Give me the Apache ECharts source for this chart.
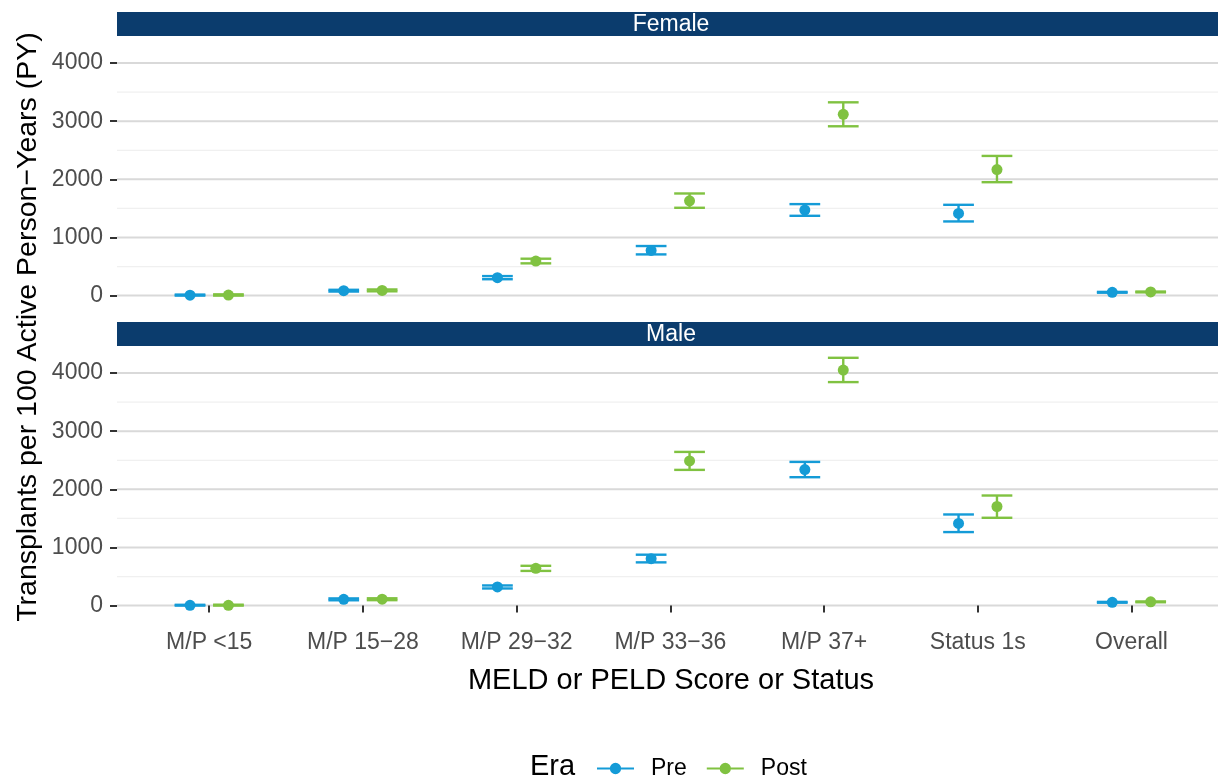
<!DOCTYPE html>
<html>
<head>
<meta charset="utf-8">
<title>Transplant rates by MELD/PELD score, sex and era</title>
<script src="https://cdn.jsdelivr.net/npm/echarts@6/dist/echarts.min.js"></script>
<style>
  html, body { margin: 0; padding: 0; background: #ffffff; }
  #chart { width: 1218px; height: 782px; }
</style>
</head>
<body>
<div id="chart"></div>
<script>
// Score / status groups on the x axis
const categories = ['M/P <15', 'M/P 15\u221228', 'M/P 29\u221232', 'M/P 33\u221236', 'M/P 37+', 'Status 1s', 'Overall'];

// Transplants per 100 active person-years, with 95% CI
const femalePre    = [8,   85,  309,  778, 1471, 1413, 57];
const femalePreLo  = [0,   70,  282,  709, 1373, 1276, 50];
const femalePreHi  = [18,  100, 336,  853, 1574, 1562, 64];
const femalePost   = [10,  90,  595, 1631, 3119, 2169, 63];
const femalePostLo = [0,   74,  555, 1511, 2913, 1951, 56];
const femalePostHi = [22,  106, 635, 1757, 3325, 2403, 70];

const malePre      = [5,   108, 321,  807, 2340, 1413, 57];
const malePreLo    = [0,   92,  295,  744, 2209, 1265, 50];
const malePreHi    = [14,  124, 347,  876, 2472, 1568, 64];
const malePost     = [6,   110, 641, 2489, 4052, 1705, 65];
const malePostLo   = [0,   94,  597, 2335, 3845, 1511, 58];
const malePostHi   = [16,  126, 685, 2644, 4263, 1894, 72];

// Y axis breaks
const yMajorTicks = [0, 1000, 2000, 3000, 4000];
const yMinorTicks = [500, 1500, 2500, 3500];
const panels = ['Female', 'Male'];
const eras = ['Pre', 'Post'];

const COLORS = { Pre: '#149BD7', Post: '#80C241' };
const FONT = 'Liberation Sans, Arial, Helvetica, sans-serif';
const STRIP = '#0B3C6D';

// Layout: the panel runs to the right edge of the canvas
const GRID_LEFT = 117, GRID_RIGHT = 0, GRID_H = 272;
const GRID_TOPS = [36, 346];
const X_MIN = 0.4, X_MAX = 7.563;
const Y_MIN = -213, Y_MAX = 4466;
const DODGE = 0.125, CAP = 0.1;

const catPositions = categories.map((c, i) => i + 1);

function dodged(values, lo, hi, era) {
  const off = era === 'Pre' ? -DODGE : DODGE;
  return values.map((v, i) => ({ pt: [i + 1 + off, v], bar: [i + 1 + off, lo[i], hi[i]] }));
}

const panelData = [
  { Pre: dodged(femalePre, femalePreLo, femalePreHi, 'Pre'), Post: dodged(femalePost, femalePostLo, femalePostHi, 'Post') },
  { Pre: dodged(malePre, malePreLo, malePreHi, 'Pre'), Post: dodged(malePost, malePostLo, malePostHi, 'Post') }
];

const grids = GRID_TOPS.map(top => ({ left: GRID_LEFT, right: GRID_RIGHT, top: top, height: GRID_H, containLabel: false }));

const xAxes = GRID_TOPS.map((t, gi) => ({
  type: 'value', gridIndex: gi, min: X_MIN, max: X_MAX,
  axisLine: { show: false },
  splitLine: { show: false },
  axisTick: { show: gi === 1, customValues: catPositions, length: 7, lineStyle: { color: '#333333', width: 2 } },
  axisLabel: {
    show: gi === 1, customValues: catPositions, margin: 13,
    color: '#4D4D4D', fontFamily: FONT, fontSize: 23,
    formatter: v => categories[Math.round(v) - 1] || ''
  }
}));

const yAxes = GRID_TOPS.map((t, gi) => ({
  type: 'value', gridIndex: gi, min: Y_MIN, max: Y_MAX,
  axisLine: { show: false },
  splitLine: { show: false },
  axisTick: { show: true, customValues: yMajorTicks, length: 7, lineStyle: { color: '#333333', width: 2 } },
  axisLabel: {
    customValues: yMajorTicks, margin: 14, color: '#4D4D4D', fontFamily: FONT, fontSize: 23,
    formatter: v => String(Math.round(v))
  }
}));

function gridLineSeries(gi, ticks, color, width) {
  return {
    type: 'custom', xAxisIndex: gi, yAxisIndex: gi, silent: true, z: 0,
    data: ticks.map(v => [X_MIN, v]),
    renderItem: (params, api) => {
      const y = api.coord([X_MIN, api.value(1)])[1];
      const cs = params.coordSys;
      return { type: 'line', shape: { x1: cs.x, y1: y, x2: cs.x + cs.width, y2: y }, style: { stroke: color, lineWidth: width } };
    }
  };
}

function errorBarSeries(gi, era) {
  return {
    type: 'custom', name: era + ' CI', xAxisIndex: gi, yAxisIndex: gi, silent: true, z: 2,
    data: panelData[gi][era].map(d => d.bar),
    renderItem: (params, api) => {
      const x = api.value(0), lo = api.value(1), hi = api.value(2);
      const top = api.coord([x, hi]), bot = api.coord([x, lo]);
      const tl = api.coord([x - CAP, hi]), tr = api.coord([x + CAP, hi]);
      const bl = api.coord([x - CAP, lo]), br = api.coord([x + CAP, lo]);
      const style = { stroke: COLORS[era], lineWidth: 2.4 };
      return {
        type: 'group',
        children: [
          { type: 'line', shape: { x1: top[0], y1: top[1], x2: bot[0], y2: bot[1] }, style },
          { type: 'line', shape: { x1: tl[0], y1: tl[1], x2: tr[0], y2: tr[1] }, style },
          { type: 'line', shape: { x1: bl[0], y1: bl[1], x2: br[0], y2: br[1] }, style }
        ]
      };
    }
  };
}

function pointSeries(gi, era) {
  return {
    type: 'scatter', name: era, xAxisIndex: gi, yAxisIndex: gi, z: 3,
    symbol: 'circle', symbolSize: 11,
    itemStyle: { color: COLORS[era], opacity: 1 },
    data: panelData[gi][era].map(d => d.pt)
  };
}

const series = [];
GRID_TOPS.forEach((t, gi) => {
  series.push(gridLineSeries(gi, yMinorTicks, '#F0F0F0', 1.2));
  series.push(gridLineSeries(gi, yMajorTicks, '#D9D9D9', 2));
  eras.forEach(e => series.push(errorBarSeries(gi, e)));
  eras.forEach(e => series.push(pointSeries(gi, e)));
});

// Facet strips and titles
const STRIP_CENTER = 671;
const graphics = [];
panels.forEach((name, gi) => {
  graphics.push({ type: 'rect', left: GRID_LEFT, top: GRID_TOPS[gi] - 24, shape: { x: 0, y: 0, width: 1218 - GRID_LEFT, height: 24 }, style: { fill: STRIP }, silent: true });
  graphics.push({ type: 'text', x: STRIP_CENTER, y: GRID_TOPS[gi] - 11, style: { text: name, fill: '#FFFFFF', font: '23px ' + FONT, textAlign: 'center', textVerticalAlign: 'middle' }, silent: true });
});
graphics.push({ type: 'text', x: STRIP_CENTER, y: 681, style: { text: 'MELD or PELD Score or Status', fill: '#000000', font: '29px ' + FONT, textAlign: 'center', textVerticalAlign: 'middle' } });
graphics.push({ type: 'text', x: 28, y: 327, rotation: Math.PI / 2, style: { text: 'Transplants per 100 Active Person\u2212Years (PY)', fill: '#000000', font: '28.5px ' + FONT, textAlign: 'center', textVerticalAlign: 'middle' } });
graphics.push({ type: 'text', x: 530, y: 767, style: { text: 'Era', fill: '#000000', font: '29px ' + FONT, textAlign: 'left', textVerticalAlign: 'middle' } });

const chart = echarts.init(document.getElementById('chart'), null, { renderer: 'canvas' });
chart.setOption({
  backgroundColor: '#FFFFFF',
  animation: false,
  grid: grids,
  xAxis: xAxes,
  yAxis: yAxes,
  legend: {
    data: eras,
    left: 592, top: 752,
    orient: 'horizontal',
    selectedMode: false,
    itemWidth: 37, itemHeight: 12, itemGap: 20,
    icon: 'path://M0,5H36V7H0Z M23.5,6A5.5,5.5,0,1,1,12.5,6A5.5,5.5,0,1,1,23.5,6Z',
    textStyle: { color: '#000000', fontFamily: FONT, fontSize: 23, padding: [0, 0, 0, 12] }
  },
  graphic: graphics,
  series: series
});
</script>
</body>
</html>
